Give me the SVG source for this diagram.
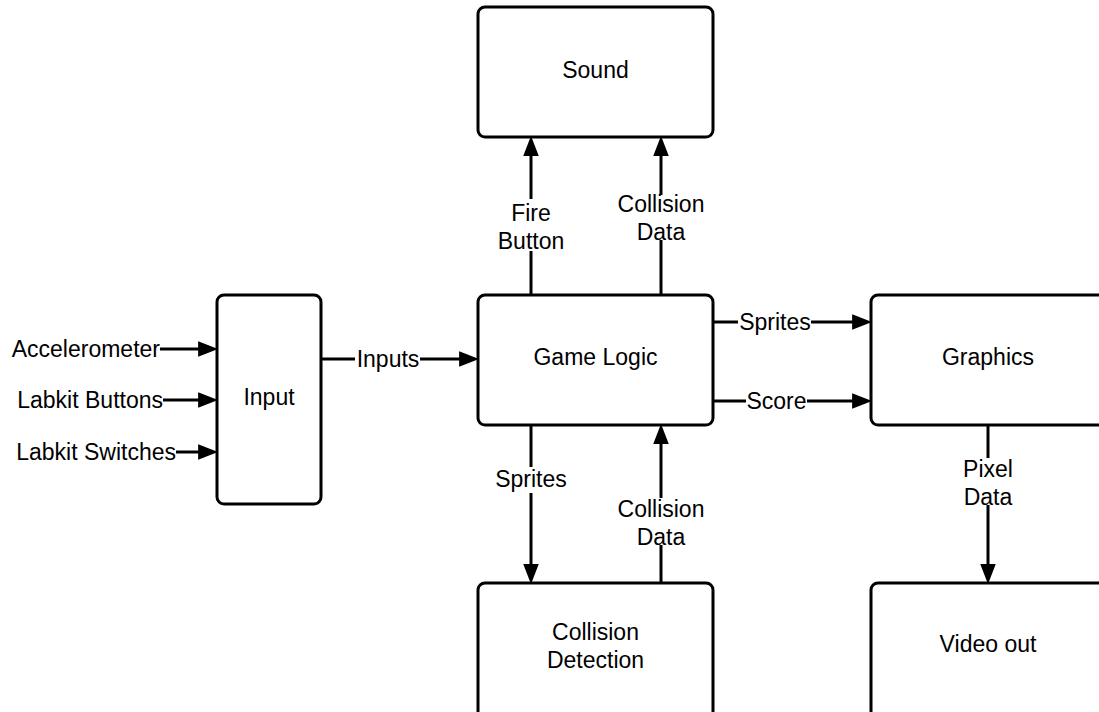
<svg xmlns="http://www.w3.org/2000/svg" width="1099" height="712" viewBox="0 0 1099 712">
  <style>
    .box { fill: #ffffff; stroke: #000000; stroke-width: 3; }
    .wire { fill: none; stroke: #000000; stroke-width: 3; }
    .arrow { marker-end: url(#head); }
    text { font-family: "Liberation Sans", Arial, sans-serif; font-size: 23px; fill: #000000; }
    .c { text-anchor: middle; }
    .e { text-anchor: end; }
  </style>
  <defs>
    <!-- filled arrowhead; tip lands 10px beyond the line end -->
    <marker id="head" markerUnits="userSpaceOnUse" markerWidth="20" markerHeight="16" viewBox="0 0 18 14" refX="8" refY="7" orient="auto">
      <path d="M0,0 L18,7 L0,14 z" fill="#000000"/>
    </marker>
  </defs>
  <rect width="1099" height="712" fill="#ffffff"/>

  <g id="sound">
    <rect class="box" x="478" y="7" width="235" height="130" rx="7"/>
    <text class="c" x="595.5" y="78">Sound</text>
  </g>
  <g id="input">
    <rect class="box" x="217" y="295" width="104" height="209" rx="7"/>
    <text class="c" x="269" y="405">Input</text>
  </g>
  <g id="game-logic">
    <rect class="box" x="478" y="295" width="235" height="130" rx="7"/>
    <text class="c" x="595.5" y="365">Game Logic</text>
  </g>
  <g id="graphics">
    <rect class="box" x="871" y="295" width="235" height="130" rx="7"/>
    <text class="c" x="988" y="365">Graphics</text>
  </g>
  <g id="collision-detection">
    <rect class="box" x="478" y="583" width="235" height="140" rx="7"/>
    <text class="c" x="595.5" y="640">Collision</text>
    <text class="c" x="595.5" y="668">Detection</text>
  </g>
  <g id="video-out">
    <rect class="box" x="871" y="583" width="235" height="140" rx="7"/>
    <text class="c" x="988" y="652">Video out</text>
  </g>

  <g id="connectors">
    <!-- external inputs -->
    <line class="wire arrow" x1="160" y1="349" x2="207" y2="349"/>
    <text class="e" x="160" y="357">Accelerometer</text>
    <line class="wire arrow" x1="163" y1="400" x2="207" y2="400"/>
    <text class="e" x="163" y="408">Labkit Buttons</text>
    <line class="wire arrow" x1="176" y1="452" x2="207" y2="452"/>
    <text class="e" x="176" y="460">Labkit Switches</text>

    <!-- Input -> Game Logic -->
    <line class="wire" x1="321" y1="359" x2="355" y2="359"/>
    <line class="wire arrow" x1="420" y1="359" x2="468" y2="359"/>
    <text class="c" x="388" y="367">Inputs</text>

    <!-- Game Logic -> Sound : Fire Button -->
    <line class="wire" x1="531" y1="295" x2="531" y2="251"/>
    <line class="wire arrow" x1="531" y1="199" x2="531" y2="147"/>
    <text class="c" x="531" y="221">Fire</text>
    <text class="c" x="531" y="249">Button</text>

    <!-- Game Logic -> Sound : Collision Data -->
    <line class="wire" x1="661" y1="295" x2="661" y2="240"/>
    <line class="wire arrow" x1="661" y1="195" x2="661" y2="147"/>
    <text class="c" x="661" y="212">Collision</text>
    <text class="c" x="661" y="240">Data</text>

    <!-- Game Logic -> Graphics : Sprites -->
    <line class="wire" x1="713" y1="322" x2="738" y2="322"/>
    <line class="wire arrow" x1="811" y1="322" x2="861" y2="322"/>
    <text class="c" x="775" y="330">Sprites</text>

    <!-- Game Logic -> Graphics : Score -->
    <line class="wire" x1="713" y1="401" x2="746" y2="401"/>
    <line class="wire arrow" x1="807" y1="401" x2="861" y2="401"/>
    <text class="c" x="776.5" y="409">Score</text>

    <!-- Game Logic -> Collision Detection : Sprites -->
    <line class="wire" x1="531" y1="425" x2="531" y2="467"/>
    <line class="wire arrow" x1="531" y1="493" x2="531" y2="573"/>
    <text class="c" x="531" y="487">Sprites</text>

    <!-- Collision Detection -> Game Logic : Collision Data -->
    <line class="wire" x1="661" y1="583" x2="661" y2="545"/>
    <line class="wire arrow" x1="661" y1="498" x2="661" y2="435"/>
    <text class="c" x="661" y="517">Collision</text>
    <text class="c" x="661" y="545">Data</text>

    <!-- Graphics -> Video out : Pixel Data -->
    <line class="wire" x1="988" y1="425" x2="988" y2="458"/>
    <line class="wire arrow" x1="988" y1="505" x2="988" y2="573"/>
    <text class="c" x="988" y="477">Pixel</text>
    <text class="c" x="988" y="505">Data</text>
  </g>
</svg>
